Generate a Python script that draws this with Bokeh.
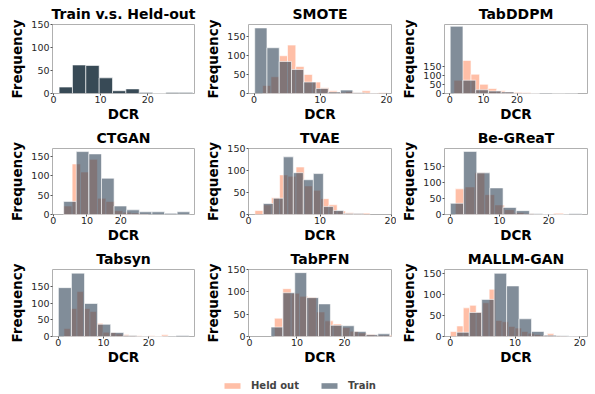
import numpy as np
from bokeh.plotting import figure
from bokeh.layouts import column, row
from bokeh.models import FixedTicker, Legend, LegendItem, ColumnDataSource
from bokeh.embed import file_html
from bokeh.resources import INLINE

# ---------------- data ----------------
titles = ["Train v.s. Held-out", "SMOTE", "TabDDPM",
          "CTGAN", "TVAE", "Be-GReaT",
          "Tabsyn", "TabPFN", "MALLM-GAN"]
x_ticks = [0, 10, 20]
y_ticks = [0, 50, 100, 150]
legend_labels = ["Held out", "Train"]

# Train v.s. Held-out (single distribution)
base_range = (1.2, 29.5)
base_counts = [14, 62, 61, 34, 6, 10, 2, 0, 2, 2]

smote_held_range = (1.3, 20.05)
smote_held = [21, 44, 99, 127, 71, 50, 30, 15, 7, 3, 5, 2, 7, 1, 2]
smote_train_range = (0.1, 18.6)
smote_train = [172, 120, 84, 63, 30, 13, 4, 9, 2, 1]

tabddpm_held_range = (1.2, 26.7)
tabddpm_held = [75, 187, 109, 52, 28, 15, 9, 7, 6, 1]
tabddpm_train_range = (0.1, 38.1)
tabddpm_train = [380, 75, 21, 14, 9, 2, 1, 3, 0, 1]

ctgan_held_range = (3.1, 28.1)
ctgan_held = [22, 131, 110, 143, 42, 34, 10, 6, 4, 2]
ctgan_train_range = (3.1, 40.4)
ctgan_train = [34, 163, 157, 94, 22, 12, 7, 7, 3, 7]

tvae_held_range = (0.9, 17.0)
tvae_held = [9, 22, 38, 90, 87, 108, 65, 55, 36, 22, 8, 4, 2, 3]
tvae_train_range = (2.07, 16.07)
tvae_train = [25, 37, 131, 95, 79, 93, 18, 9, 2, 2]

begreat_held_range = (1.0, 23.0)
begreat_held = [80, 86, 130, 62, 30, 15, 6, 3, 1, 1, 4]
begreat_train_range = (0.0, 26.8)
begreat_train = [35, 197, 130, 83, 22, 12, 2, 1, 0, 2]

tabsyn_held_range = (1.23, 24.27)
tabsyn_held = [24, 85, 136, 85, 76, 40, 13, 12, 8, 6, 3, 2, 1, 2, 1, 5]
tabsyn_train_range = (0.0, 28.9)
tabsyn_train = [148, 192, 100, 37, 12, 3, 1, 0, 1, 3]

tabpfn_held_range = (5.25, 30.0)
tabpfn_held = [41, 107, 97, 90, 88, 55, 35, 28, 20, 12, 8, 5, 3, 3]
tabpfn_train_range = (4.54, 29.54)
tabpfn_train = [21, 98, 143, 87, 73, 25, 24, 11, 4, 6]

mallm_held_range = (0.0, 20.0)
mallm_held = [12, 25, 68, 74, 58, 80, 112, 38, 35, 24, 20, 12, 8, 5, 3, 7, 2, 1, 0, 1]
mallm_train_range = (1.0, 20.25)
mallm_train = [10, 57, 88, 150, 120, 42, 12, 3, 2, 1]

# ---------------- styling / layout ----------------
FONT = "DejaVu Sans"
HELD_COLOR, HELD_ALPHA = "#ff7f50", 0.5
TRAIN_COLOR, TRAIN_ALPHA = "#33475a", 0.62
BASE_COLOR = "#384a56"

# axis windows per panel: (x_start, x_end, y_top)
views = [(-0.2, 29.9, 150), (-0.84, 20.75, 181), (-1.6, 41.0, 390),
         (-0.2, 41.8, 171), (0.0, 20.0, 150), (-1.2, 27.9, 206),
         (-1.3, 30.1, 203), (-0.2, 29.9, 150), (-0.9, 21.2, 159)]

series = [
    [(base_range, base_counts, BASE_COLOR, 1.0)],
    [(smote_held_range, smote_held, HELD_COLOR, HELD_ALPHA), (smote_train_range, smote_train, TRAIN_COLOR, TRAIN_ALPHA)],
    [(tabddpm_held_range, tabddpm_held, HELD_COLOR, HELD_ALPHA), (tabddpm_train_range, tabddpm_train, TRAIN_COLOR, TRAIN_ALPHA)],
    [(ctgan_held_range, ctgan_held, HELD_COLOR, HELD_ALPHA), (ctgan_train_range, ctgan_train, TRAIN_COLOR, TRAIN_ALPHA)],
    [(tvae_held_range, tvae_held, HELD_COLOR, HELD_ALPHA), (tvae_train_range, tvae_train, TRAIN_COLOR, TRAIN_ALPHA)],
    [(begreat_held_range, begreat_held, HELD_COLOR, HELD_ALPHA), (begreat_train_range, begreat_train, TRAIN_COLOR, TRAIN_ALPHA)],
    [(tabsyn_held_range, tabsyn_held, HELD_COLOR, HELD_ALPHA), (tabsyn_train_range, tabsyn_train, TRAIN_COLOR, TRAIN_ALPHA)],
    [(tabpfn_held_range, tabpfn_held, HELD_COLOR, HELD_ALPHA), (tabpfn_train_range, tabpfn_train, TRAIN_COLOR, TRAIN_ALPHA)],
    [(mallm_held_range, mallm_held, HELD_COLOR, HELD_ALPHA), (mallm_train_range, mallm_train, TRAIN_COLOR, TRAIN_ALPHA)],
]


def hist_source(rng, counts):
    edges = np.linspace(rng[0], rng[1], len(counts) + 1)
    return ColumnDataSource(dict(left=edges[:-1], right=edges[1:],
                                 top=list(counts), bottom=[0] * len(counts)))


def make_panel(i, width, height, border):
    x0, x1, ytop = views[i]
    bl, br, bt, bb = border
    p = figure(width=width, height=height, x_range=(x0, x1), y_range=(0, ytop),
               output_backend="svg", toolbar_location=None, title=titles[i],
               min_border_left=bl, min_border_right=br,
               min_border_top=bt, min_border_bottom=bb)
    for rng, counts, color, alpha in series[i]:
        p.quad(left="left", right="right", top="top", bottom="bottom",
               source=hist_source(rng, counts), fill_color=color, fill_alpha=alpha,
               line_color="white", line_alpha=0.6, line_width=1)
    p.title.text_font = FONT
    p.title.text_font_size = "14px"
    p.title.text_font_style = "bold"
    p.title.align = "center"
    p.title.standoff = 6
    p.title.text_color = "black"
    p.xgrid.visible = False
    p.ygrid.visible = False
    p.outline_line_color = "#b0b0b0"
    p.outline_line_width = 1
    p.xaxis.ticker = FixedTicker(ticks=x_ticks)
    p.yaxis.ticker = FixedTicker(ticks=y_ticks)
    p.xaxis.axis_label = "DCR"
    p.yaxis.axis_label = "Frequency"
    for ax in (p.xaxis, p.yaxis):
        ax.axis_line_color = None
        ax.major_tick_out = 2
        ax.major_tick_in = 0
        ax.minor_tick_out = 0
        ax.minor_tick_in = 0
        ax.major_tick_line_color = "#555555"
        ax.major_label_text_font = FONT
        ax.major_label_text_font_size = "9.5px"
        ax.major_label_text_color = "#262626"
        ax.axis_label_text_font = FONT
        ax.axis_label_text_font_size = "13.5px"
        ax.axis_label_text_font_style = "bold"
        ax.axis_label_text_color = "black"
    p.xaxis.major_label_standoff = 0
    p.xaxis.axis_label_standoff = 0
    p.yaxis.major_label_standoff = 1
    p.yaxis.axis_label_standoff = 3
    return p


row_heights = [124, 121, 122]
row_borders_tb = [(24, 27), (23, 28), (23, 28)]
col_widths = [196, 200, 198]
col_borders_lr = [(52, 2), (52, 5), (48, 7)]

rows = []
for r in range(3):
    figs = []
    for c in range(3):
        i = r * 3 + c
        border = col_borders_lr[c] + row_borders_tb[r]
        figs.append(make_panel(i, col_widths[c], row_heights[r], border))
    rows.append(row(*figs))

# legend strip (its renderers use real data but lie outside the strip's view)
leg = figure(width=sum(col_widths), height=26, x_range=(-3, -2), y_range=(0, 1),
             output_backend="svg", toolbar_location=None, min_border=0,
             x_axis_location=None, y_axis_location=None, outline_line_color=None)
leg.xgrid.visible = False
leg.ygrid.visible = False
r_held = leg.quad(left="left", right="right", top="top", bottom="bottom",
                  source=hist_source(smote_held_range, smote_held),
                  fill_color=HELD_COLOR, fill_alpha=HELD_ALPHA, line_color=None)
r_train = leg.quad(left="left", right="right", top="top", bottom="bottom",
                   source=hist_source(smote_train_range, smote_train),
                   fill_color=TRAIN_COLOR, fill_alpha=TRAIN_ALPHA, line_color=None)
legend = Legend(items=[LegendItem(label=legend_labels[0], renderers=[r_held]),
                       LegendItem(label=legend_labels[1], renderers=[r_train])],
                orientation="horizontal", location=(222, 2),
                glyph_width=20, glyph_height=7, label_standoff=9, spacing=20,
                padding=0, margin=0, border_line_color=None, background_fill_alpha=0,
                label_text_font=FONT, label_text_font_size="10px",
                label_text_font_style="bold", label_height=12)
leg.add_layout(legend)

layout = column(*rows, leg)
open("out.html", "w").write(file_html(layout, INLINE))
